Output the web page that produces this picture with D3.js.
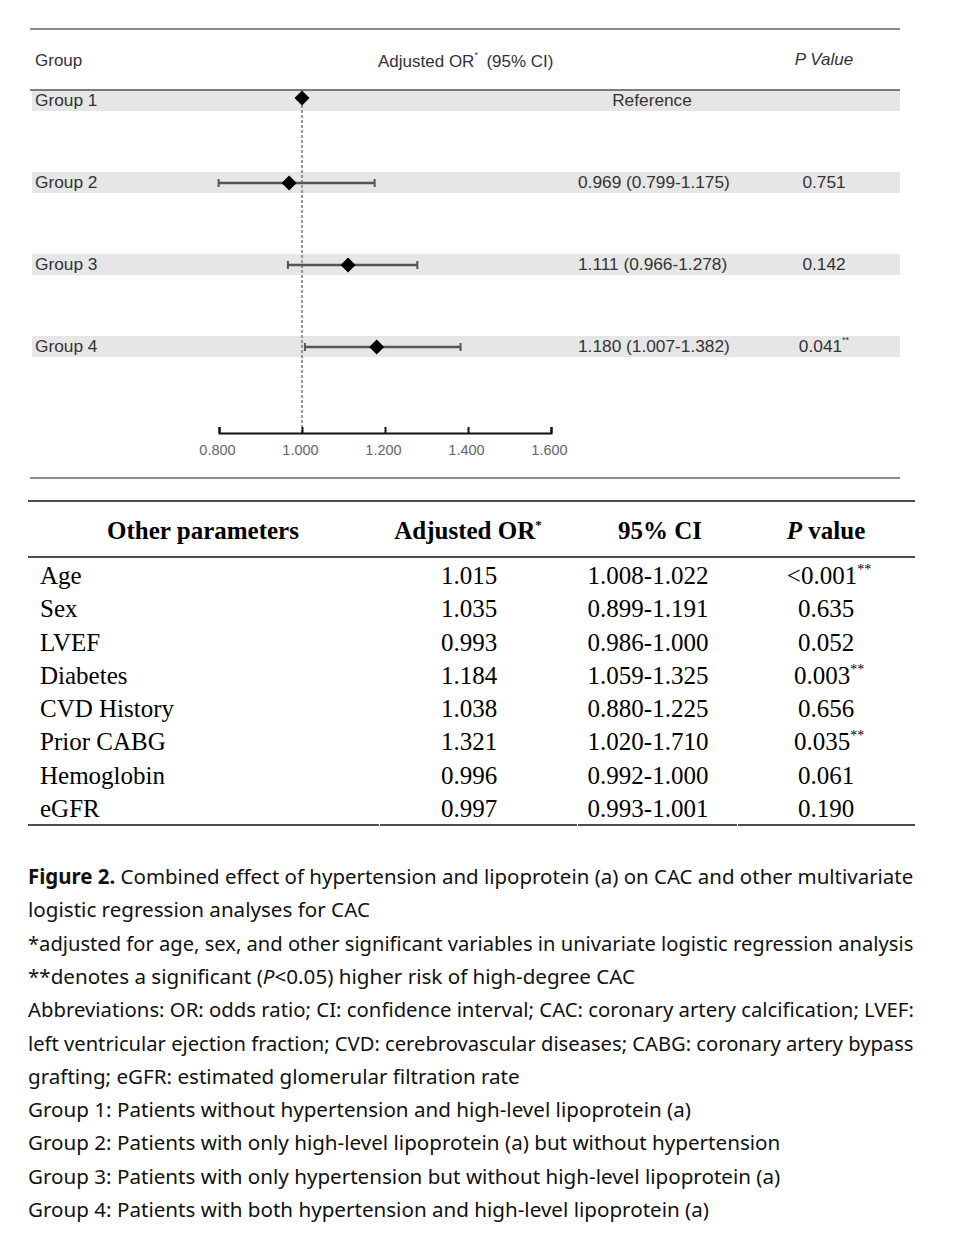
<!DOCTYPE html>
<html lang="en">
<head>
<meta charset="UTF-8">
<title>Figure 2 forest plot and table</title>
<script src="https://d3js.org/d3.v7.min.js"></script>
<style>
  body { margin: 0; background: white; }
  svg { display: block; }
  .sans { font-family: "Liberation Sans", Arial, sans-serif; }
  .serif { font-family: "Liberation Serif", "Times New Roman", serif; }
  .cap { font-family: "Noto Sans", "Open Sans", sans-serif; }
</style>
</head>
<body>
<svg width="956" height="1244"></svg>
<script>
// ---- forest plot data
const groups = ["Group 1", "Group 2", "Group 3", "Group 4"];
const orVals = [1.000, 0.969, 1.111, 1.180];
const lowerCI = [null, 0.799, 0.966, 1.007];
const upperCI = [null, 1.175, 1.278, 1.382];
const orLabels = ["Reference", "0.969 (0.799-1.175)", "1.111 (0.966-1.278)", "1.180 (1.007-1.382)"];
const pLabels = ["", "0.751", "0.142", "0.041"];
const pSig = [false, false, false, true];
const xTicks = [0.8, 1.0, 1.2, 1.4, 1.6];

// ---- other parameters table
const params = ["Age", "Sex", "LVEF", "Diabetes", "CVD History", "Prior CABG", "Hemoglobin", "eGFR"];
const adjOR = ["1.015", "1.035", "0.993", "1.184", "1.038", "1.321", "0.996", "0.997"];
const ci95 = ["1.008-1.022", "0.899-1.191", "0.986-1.000", "1.059-1.325", "0.880-1.225", "1.020-1.710", "0.992-1.000", "0.993-1.001"];
const pVals = ["<0.001", "0.635", "0.052", "0.003", "0.656", "0.035", "0.061", "0.190"];
const pValSig = [true, false, false, true, false, true, false, false];

// ---- caption lines (full = justified line of the paragraph)
const captionLines = [
  {full: true, parts: [{t: "Figure 2.", b: true}, {t: " Combined effect of hypertension and lipoprotein (a) on CAC and other multivariate"}]},
  {parts: [{t: "logistic regression analyses for CAC"}]},
  {full: true, parts: [{t: "*adjusted for age, sex, and other significant variables in univariate logistic regression analysis"}]},
  {parts: [{t: "**denotes a significant ("}, {t: "P", i: true}, {t: "<0.05) higher risk of high-degree CAC"}]},
  {full: true, parts: [{t: "Abbreviations: OR: odds ratio; CI: confidence interval; CAC: coronary artery calcification; LVEF:"}]},
  {full: true, parts: [{t: "left ventricular ejection fraction; CVD: cerebrovascular diseases; CABG: coronary artery bypass"}]},
  {parts: [{t: "grafting; eGFR: estimated glomerular filtration rate"}]},
  {parts: [{t: "Group 1: Patients without hypertension and high-level lipoprotein (a)"}]},
  {parts: [{t: "Group 2: Patients with only high-level lipoprotein (a) but without hypertension"}]},
  {parts: [{t: "Group 3: Patients with only hypertension but without high-level lipoprotein (a)"}]},
  {parts: [{t: "Group 4: Patients with both hypertension and high-level lipoprotein (a)"}]}
];

const svg = d3.select("svg");

// ================= forest plot =================
const x = d3.scaleLinear().domain([0.8, 1.6]).range([219, 551]);
const y = d3.scalePoint().domain(groups).range([100, 346]);
const axisY = 433;

svg.append("line").attr("x1", 30).attr("x2", 900).attr("y1", 29).attr("y2", 29)
  .attr("stroke", "#666").attr("stroke-width", 1.5);
svg.append("line").attr("x1", 30).attr("x2", 900).attr("y1", 478).attr("y2", 478)
  .attr("stroke", "#666").attr("stroke-width", 1.5);

// header
const hdr = svg.append("g").attr("class", "sans").attr("fill", "#333").style("font-size", "17px");
hdr.append("text").attr("x", 35).attr("y", 60).attr("dominant-baseline", "central").text("Group");
const orHead = hdr.append("text").attr("x", 378).attr("y", 61).attr("dominant-baseline", "central");
orHead.append("tspan").text("Adjusted OR");
orHead.append("tspan").attr("dy", -6).style("font-size", "9px").text("*");
orHead.append("tspan").attr("dy", 6).text("\u2002(95% CI)");
hdr.append("text").attr("x", 824).attr("y", 59).attr("text-anchor", "middle")
  .attr("dominant-baseline", "central").style("font-style", "italic").text("P Value");

// row bands
svg.append("g").selectAll("rect").data(groups).join("rect")
  .attr("x", 32).attr("width", 868)
  .attr("y", d => y(d) - 10).attr("height", 21)
  .attr("fill", "#e6e6e6");

svg.append("line").attr("x1", 30).attr("x2", 900).attr("y1", 90).attr("y2", 90)
  .attr("stroke", "#555").attr("stroke-width", 1.5);

// reference line
svg.append("line").attr("x1", x(1)).attr("x2", x(1)).attr("y1", y("Group 1")).attr("y2", axisY)
  .attr("stroke", "#777").attr("stroke-width", 1.5).attr("stroke-dasharray", "3,2");

// axis
const axis = svg.append("g").attr("transform", `translate(0,${axisY})`)
  .call(d3.axisBottom(x).tickValues(xTicks).tickFormat(d3.format(".3f"))
    .tickSize(-6).tickSizeOuter(-6).tickPadding(12));
axis.select(".domain").attr("stroke", "#111").attr("stroke-width", 2);
axis.selectAll(".tick line").attr("stroke", "#111").attr("stroke-width", 2);
axis.selectAll(".tick text").attr("fill", "#666").attr("dx", -2)
  .style("font-family", "'Liberation Sans', Arial, sans-serif").style("font-size", "14.5px");

// error bars
const rows = groups.map((g, i) => ({g, or: orVals[i], lo: lowerCI[i], hi: upperCI[i],
  lab: orLabels[i], p: pLabels[i], sig: pSig[i]}));
const ci = svg.append("g").attr("stroke", "#555").attr("stroke-width", 2.5);
const withCI = rows.filter(d => d.lo != null);
ci.selectAll(".bar").data(withCI).join("line")
  .attr("x1", d => x(d.lo)).attr("x2", d => x(d.hi))
  .attr("y1", d => y(d.g) + 1).attr("y2", d => y(d.g) + 1);
ci.selectAll(".capL").data(withCI).join("line").attr("stroke-width", 2)
  .attr("x1", d => x(d.lo)).attr("x2", d => x(d.lo))
  .attr("y1", d => y(d.g) - 3).attr("y2", d => y(d.g) + 5);
ci.selectAll(".capR").data(withCI).join("line").attr("stroke-width", 2)
  .attr("x1", d => x(d.hi)).attr("x2", d => x(d.hi))
  .attr("y1", d => y(d.g) - 3).attr("y2", d => y(d.g) + 5);

// diamonds
svg.append("g").selectAll("path").data(rows).join("path")
  .attr("d", d => {
    const cx = x(d.or), cy = y(d.g) + (d.lo == null ? -2 : 1), r = 7.5;
    return `M${cx},${cy - r}L${cx + r},${cy}L${cx},${cy + r}L${cx - r},${cy}Z`;
  })
  .attr("fill", "#000");

// row texts
const rt = svg.append("g").attr("class", "sans").attr("fill", "#333").style("font-size", "17.3px");
rt.selectAll(".glab").data(rows).join("text")
  .attr("x", 35).attr("y", d => y(d.g)).attr("dominant-baseline", "central").text(d => d.g);
rt.selectAll(".orlab").data(rows).join("text")
  .attr("x", d => d.lo == null ? 652 : 578)
  .attr("text-anchor", d => d.lo == null ? "middle" : "start")
  .attr("y", d => y(d.g)).attr("dominant-baseline", "central").text(d => d.lab);
const pt = rt.selectAll(".plab").data(rows).join("text")
  .attr("x", 824).attr("text-anchor", "middle")
  .attr("y", d => y(d.g)).attr("dominant-baseline", "central");
pt.append("tspan").text(d => d.p);
pt.filter(d => d.sig).append("tspan").attr("dy", -6).style("font-size", "9px").text("**");

// ================= table =================
const ty = d3.scalePoint().domain(params).range([576, 809]);
const cols = {param: 40, or: 469, ci: 648, p: 826};

svg.append("line").attr("x1", 28).attr("x2", 915).attr("y1", 501).attr("y2", 501)
  .attr("stroke", "#111").attr("stroke-width", 1.5);
svg.append("line").attr("x1", 28).attr("x2", 915).attr("y1", 557).attr("y2", 557)
  .attr("stroke", "#111").attr("stroke-width", 1.5);
const segs = [[28, 379], [380, 577], [578, 737], [738, 915]];
svg.append("g").selectAll("line").data(segs).join("line")
  .attr("x1", d => d[0]).attr("x2", d => d[1]).attr("y1", 825).attr("y2", 825)
  .attr("stroke", "#111").attr("stroke-width", 1.5);

const th = svg.append("g").attr("class", "serif").attr("fill", "#000")
  .style("font-size", "25px").style("font-weight", "bold");
th.append("text").attr("x", 203).attr("y", 539).attr("text-anchor", "middle").text("Other parameters");
const thOr = th.append("text").attr("x", 468).attr("y", 539).attr("text-anchor", "middle");
thOr.append("tspan").text("Adjusted OR");
thOr.append("tspan").attr("dy", -10).style("font-size", "13px").text("*");
th.append("text").attr("x", 660).attr("y", 539).attr("text-anchor", "middle").text("95% CI");
const thP = th.append("text").attr("x", 826).attr("y", 539).attr("text-anchor", "middle");
thP.append("tspan").style("font-style", "italic").text("P");
thP.append("tspan").text(" value");

const tb = svg.append("g").attr("class", "serif").attr("fill", "#000").style("font-size", "25px");
const trows = params.map((p, i) => ({p, or: adjOR[i], ci: ci95[i], pv: pVals[i], sig: pValSig[i]}));
tb.selectAll(".pn").data(trows).join("text")
  .attr("x", cols.param).attr("y", d => ty(d.p) + 8).text(d => d.p);
tb.selectAll(".po").data(trows).join("text")
  .attr("x", cols.or).attr("text-anchor", "middle").attr("y", d => ty(d.p) + 8).text(d => d.or);
tb.selectAll(".pc").data(trows).join("text")
  .attr("x", cols.ci).attr("text-anchor", "middle").attr("y", d => ty(d.p) + 8).text(d => d.ci);
const pp = tb.selectAll(".pp").data(trows).join("text")
  .attr("x", d => d.sig ? cols.p + 3 : cols.p).attr("text-anchor", "middle").attr("y", d => ty(d.p) + 8);
pp.append("tspan").text(d => d.pv);
pp.filter(d => d.sig).append("tspan").attr("dy", -10).style("font-size", "14px").text("**");

// ================= caption =================
const cy = d3.scaleLinear().domain([0, captionLines.length - 1]).range([876, 1209]);
const capLeft = 28, capRight = 914;
const capG = svg.append("g").attr("class", "cap").attr("fill", "#111").style("font-size", "20.5px");
const capTexts = capG.selectAll("text").data(captionLines).join("text")
  .attr("dominant-baseline", "central");
capTexts.each(function(line) {
  const t = d3.select(this);
  line.parts.forEach(p => {
    const s = t.append("tspan").text(p.t);
    if (p.b) s.style("font-weight", "bold");
    if (p.i) s.style("font-style", "italic");
  });
});
// justified lines fill the block; the rest use the mean squeeze of those lines
// (nudged a little wider, since justified lines also stretch their word gaps)
const widths = capTexts.nodes().map(n => n.getComputedTextLength());
const fullScales = captionLines.map((l, i) => l.full ? (capRight - capLeft) / widths[i] : null)
  .filter(s => s != null);
const looseScale = d3.mean(fullScales) * 1.016;
capTexts.attr("transform", (d, i) => {
  const sx = d.full ? (capRight - capLeft) / widths[i] : looseScale;
  return `translate(${capLeft},${cy(i)}) scale(${sx},1)`;
});
</script>
</body>
</html>
